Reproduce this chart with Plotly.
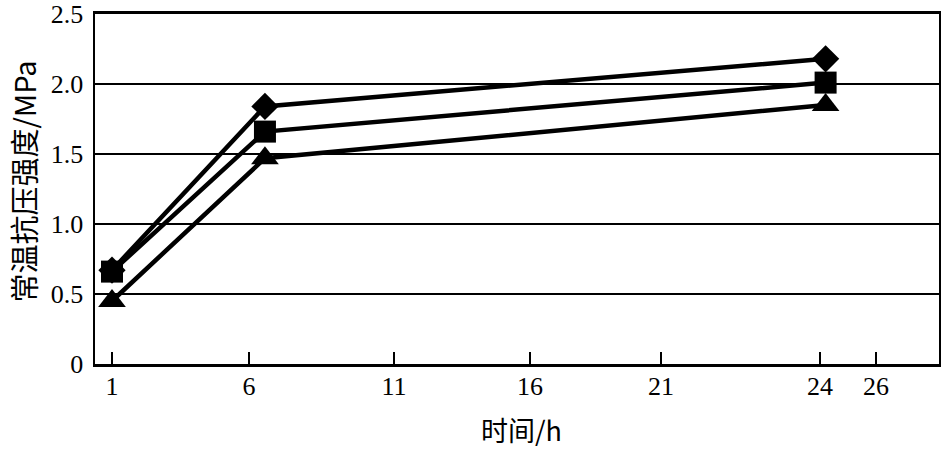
import numpy as np
import plotly.graph_objects as go

# ---- data ----
hours = [1, 6.55, 24.2]
diamond_vals = [0.67, 1.84, 2.18]
square_vals = [0.66, 1.66, 2.01]
triangle_vals = [0.45, 1.47, 1.85]

tick_hours = [1, 6, 11, 16, 21, 24, 26]
tick_labels = ["1", "6", "11", "16", "21", "24", "26"]
y_ticks = [0, 0.5, 1.0, 1.5, 2.0, 2.5]
y_tick_labels = ["0", "0.5", "1.0", "1.5", "2.0", "2.5"]

# ---- non-uniform x scale of the original drawing (layout) ----
TICK_POS = [112, 249, 394, 530, 661, 820, 876]
X_RANGE = [95, 939]


def xscale(h):
    return np.interp(h, tick_hours, TICK_POS)


xs = xscale(hours)

fig = go.Figure()
series = [
    ("triangle", triangle_vals, "triangle-up", 24),
    ("diamond", diamond_vals, "diamond", 21),
    ("square", square_vals, "square", 22),
]
for name, vals, sym, size in series:
    fig.add_trace(go.Scatter(
        x=xs, y=vals, mode="lines+markers", name=name,
        line=dict(color="black", width=4.5),
        marker=dict(symbol=sym, size=size, color="black"),
        showlegend=False, cliponaxis=False,
    ))

serif = "Liberation Serif, Times New Roman, serif"
cjk = "Noto Sans CJK SC"

fig.update_layout(
    width=941, height=452,
    margin=dict(l=95, r=2, t=14, b=88),
    paper_bgcolor="white", plot_bgcolor="white",
    font=dict(family=serif, color="black", size=22),
    xaxis=dict(
        range=X_RANGE, tickvals=xscale(tick_hours), ticktext=tick_labels,
        ticks="inside", ticklen=12, tickwidth=1.5, tickcolor="black",
        showgrid=False, zeroline=False, automargin=False,
        showline=True, linecolor="black", linewidth=3, mirror=True,
        ticklabelstandoff=-3, ticklabeloverflow="allow",
        tickfont=dict(family=serif, size=26),
    ),
    yaxis=dict(
        range=[0, 2.5], tickvals=y_ticks, ticktext=y_tick_labels,
        ticks="", showgrid=True, gridcolor="black", gridwidth=2,
        zeroline=False, showline=True, linecolor="black", linewidth=2.5,
        mirror=True, automargin=False, ticklabelstandoff=4,
        ticklabeloverflow="allow",
        tickfont=dict(family=serif, size=26),
    ),
    annotations=[
        dict(text="常温抗压强度/MPa", xref="paper", yref="paper",
             x=-0.085, y=0.522, xanchor="center", yanchor="middle",
             textangle=-90, showarrow=False, borderpad=0,
             font=dict(family=cjk + ", " + serif, size=29, color="black")),
        dict(text="时间/h", xref="paper", yref="paper",
             x=0.505, y=-0.247, xanchor="center", yanchor="bottom",
             showarrow=False, borderpad=0,
             font=dict(family=cjk + ", " + serif, size=27, color="black")),
    ],
)

fig.write_html(
    "out.html",
    config={"displayModeBar": False, "staticPlot": True},
    post_script="document.body.style.margin='0';document.body.style.overflow='hidden';",
)
